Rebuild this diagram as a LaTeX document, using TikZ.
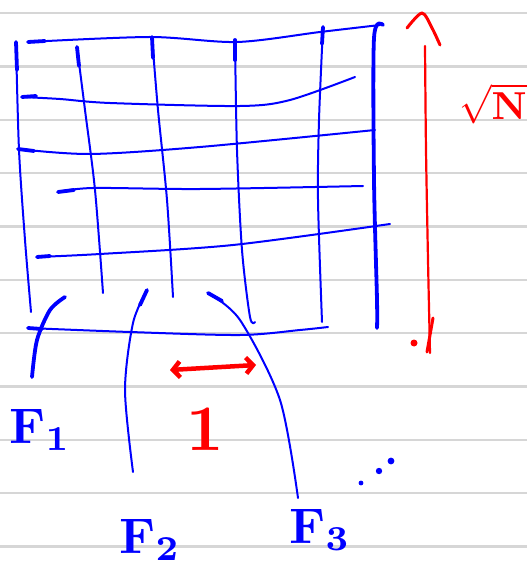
\documentclass[tikz,border=0pt]{standalone}
\usepackage{graphicx}
\usetikzlibrary{arrows.meta}
\definecolor{penblue}{RGB}{0,0,255}
\definecolor{penred}{RGB}{255,0,0}
\definecolor{ruling}{RGB}{214,214,214}
\tikzset{
  pen/.style={penblue, line width=2pt, line cap=round, line join=round},
  heavypen/.style={penblue, line width=3.8pt, line cap=round, line join=round},
  redpen/.style={penred, line width=2.6pt, line cap=round, line join=round},
  lbl/.style={penblue, inner sep=0pt},
  rlbl/.style={penred, inner sep=0pt},
}
\begin{document}
\begin{tikzpicture}[x=1pt,y=-1pt]
\useasboundingbox (0,0) rectangle (527,569);
\fill[white] (0,0) rectangle (527,569);
% ruled paper
\foreach \k in {0,...,10}{
  \draw[ruling, line width=2.4pt] (0,{13.3+53.33*\k}) -- (527,{13.3+53.33*\k});
}
% vertical strokes of the grid
\draw[pen] plot[smooth] coordinates {(16,42) (19,150) (25,240) (31,312)};
\draw[heavypen] (16,42) -- (17,70);
\draw[pen] plot[smooth] coordinates {(77,47) (85,110) (95,190) (103,293)};
\draw[heavypen] (77,47) -- (79,66);
\draw[pen] plot[smooth] coordinates {(152,37) (158,110) (167,200) (173,297)};
\draw[heavypen] (152,37) -- (153,58);
\draw[pen] plot[smooth] coordinates {(235,40) (237,150) (242,250) (250,317) (255,322)};
\draw[heavypen] (235,40) -- (235,60);
\draw[pen] plot[smooth] coordinates {(323,27) (319,120) (318,200) (322,322)};
\draw[heavypen] (323,27) -- (322,44);
\draw[heavypen] plot[smooth] coordinates {(383,25) (374,38) (374,180) (377,300) (377,328)};
% horizontal strokes of the grid
\draw[pen] plot[smooth] coordinates {(28,42) (150,37) (237,42) (320,32) (380,25)};
\draw[heavypen] (28,42) -- (45,41);
\draw[pen] plot[smooth] coordinates {(22,97) (60,99) (110,103) (240,106) (290,100) (355,77)};
\draw[heavypen] (22,97) -- (36,96);
\draw[pen] plot[smooth] coordinates {(18,149) (90,154) (200,147) (375,130)};
\draw[heavypen] (18,149) -- (34,151);
\draw[pen] plot[smooth] coordinates {(58,192) (93,188) (200,189) (363,186)};
\draw[heavypen] (58,192) -- (74,190);
\draw[pen] plot[smooth] coordinates {(37,257) (100,254) (233,245) (390,224)};
\draw[heavypen] (37,257) -- (50,256);
\draw[pen] plot[smooth] coordinates {(28,328) (130,332) (240,335) (300,330) (328,327)};
\draw[heavypen] (28,328) -- (42,329);
% the curves F1, F2, F3
\draw[heavypen] plot[smooth] coordinates {(65,297) (50,310) (37,340) (32,377)};
\draw[pen] plot[smooth] coordinates {(147,290) (133,323) (125,390) (133,472)};
\draw[heavypen] (147,290) -- (140,305);
\draw[pen] plot[smooth] coordinates {(208,293) (240,320) (280,400) (298,498)};
\draw[heavypen] (208,293) -- (222,301);
% labels
\node[lbl] (f1) at (40,430) {\scalebox{5}{$\mathbf{F}_{\mathbf 1}$}};
\node[lbl] (f2) at (150,540) {\scalebox{5}{$\mathbf{F}_{\mathbf 2}$}};
\node[lbl] (f3) at (320,530) {\scalebox{5}{$\mathbf{F}_{\mathbf 3}$}};
% dots
\fill[penblue] (391,461) circle (3.4) (379,471) circle (3.2) (361,483) circle (2.4);
% red width arrow and label
\draw[penred, line width=4.5pt, line cap=round, {Straight Barb[length=7pt,width=16pt]}-{Straight Barb[length=7pt,width=16pt]}] (170,370) -- (256,365);
\node[rlbl] (one) at (205,430) {\scalebox{6.5}{$\mathbf{1}$}};
% red height arrow
\draw[penred, line width=2.2pt, line cap=round] plot[smooth] coordinates {(425,46) (426,150) (428,260) (430,353)};
\draw[redpen, line width=3pt] plot[smooth] coordinates {(407,28) (422,13) (432,28) (440,45)};
\draw[redpen, line width=3pt] (433,318) -- (427,352);
\fill[penred] (414,343) circle (3.5);
\node[rlbl, anchor=west] (sqrtn) at (459,104) {\scalebox{3.9}{$\sqrt{\mathbf{N}}$}};
\end{tikzpicture}
\end{document}
